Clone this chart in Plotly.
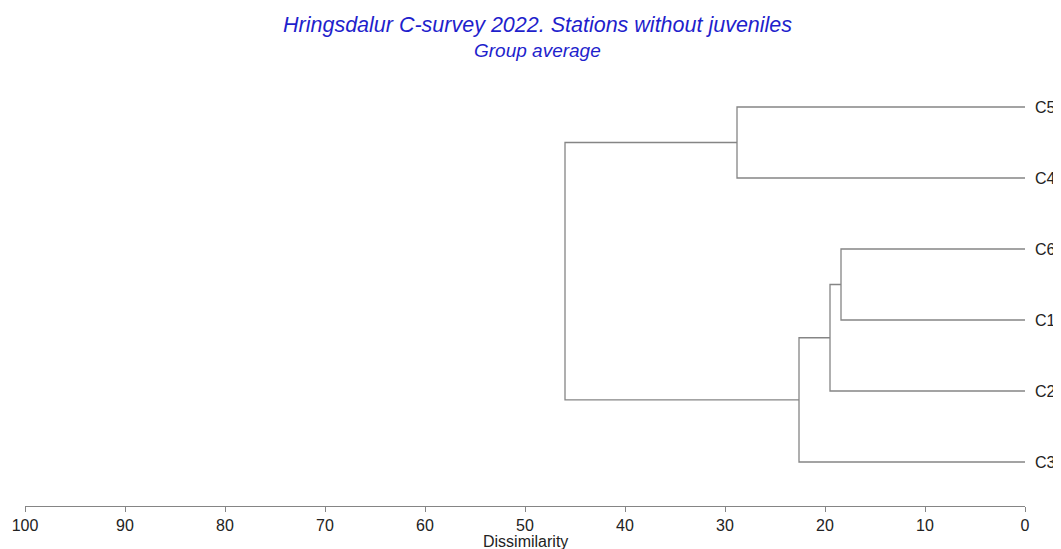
import plotly.graph_objects as go

# Leaves, top to bottom
leaf_labels = ["C5", "C4", "C6", "C1", "C2", "C3"]

# Merge steps: (left child, right child, dissimilarity)
merge_left = ["C5", "C6", "m2", "m3", "m1"]
merge_right = ["C4", "C1", "C2", "C3", "m4"]
merge_height = [28.8, 18.4, 19.5, 22.6, 46.0]
merge_names = ["m1", "m2", "m3", "m4", "m5"]

x_ticks = [100, 90, 80, 70, 60, 50, 40, 30, 20, 10, 0]

title_text = "Hringsdalur C-survey 2022. Stations without juveniles"
subtitle_text = "Group average"
x_title = "Dissimilarity"

# positions
n = len(leaf_labels)
ypos = {lab: n - 1 - i for i, lab in enumerate(leaf_labels)}
xpos = {lab: 0.0 for lab in leaf_labels}

xs, ys = [], []
for name, a, b, h in zip(merge_names, merge_left, merge_right, merge_height):
    ya, yb = ypos[a], ypos[b]
    xs += [xpos[a], h, h, xpos[b], None]
    ys += [ya, ya, yb, yb, None]
    ypos[name] = (ya + yb) / 2
    xpos[name] = h

line_color = "#858585"
fig = go.Figure()
fig.add_trace(go.Scatter(x=xs, y=ys, mode="lines",
                         line=dict(color=line_color, width=1.3),
                         hoverinfo="skip", showlegend=False))

W, H = 1053, 541
mt, mb = 72, 43
plot_h = H - mt - mb

fig.update_layout(
    template="none",
    width=W, height=H,
    margin=dict(l=17, r=36, t=mt, b=mb),
    paper_bgcolor="white", plot_bgcolor="white",
    font=dict(family="Liberation Sans, Arial, sans-serif", color="#222222"),
    xaxis=dict(range=[100, 0], tickvals=x_ticks, ticktext=[str(v) for v in x_ticks],
               automargin=False,
               showgrid=False, zeroline=False, showline=True, linecolor=line_color,
               linewidth=1.3, ticks="outside", ticklen=5, tickcolor=line_color,
               tickwidth=1.3, tickfont=dict(size=16, color="#222222")),
    yaxis=dict(range=[-0.62, 5.38], side="right", automargin=False,
               tickvals=[ypos[l] for l in leaf_labels], ticktext=leaf_labels,
               showgrid=False, zeroline=False, showline=False, ticks="",
               ticklabelstandoff=9,
               tickfont=dict(size=16, color="#222222")),
    annotations=[
        dict(text=f"<i>{title_text}</i>", xref="paper", yref="paper", x=0.512,
             y=1 + (mt - 17) / plot_h, xanchor="center", yanchor="middle",
             showarrow=False,
             font=dict(size=21.5, color="#1f1fcc", family="Liberation Sans, Arial")),
        dict(text=f"<i>{subtitle_text}</i>", xref="paper", yref="paper", x=0.512,
             y=1 + (mt - 42) / plot_h, xanchor="center", yanchor="middle",
             showarrow=False,
             font=dict(size=19, color="#1f1fcc", family="Liberation Sans, Arial")),
        dict(text=x_title, xref="x", yref="paper", x=50,
             y=-35 / plot_h, xanchor="center", yanchor="middle",
             showarrow=False, font=dict(size=16, color="#222222")),
    ],
)

fig.write_html("out.html")
